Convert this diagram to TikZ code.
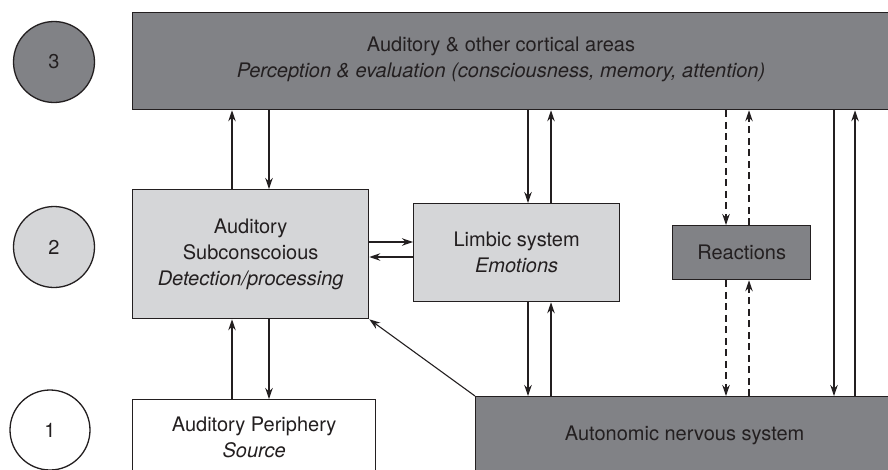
\documentclass[tikz,border=0pt]{standalone}
\usepackage{fontspec}
\setmainfont{TeX Gyre Heros}
\usetikzlibrary{arrows.meta}
\definecolor{inkc}{HTML}{231F20}
\definecolor{darkfill}{HTML}{818286}
\definecolor{lightfill}{HTML}{D5D6D8}
\begin{document}
\begin{tikzpicture}[x=1pt,y=-1pt,
  every node/.style={font=\fontsize{20}{26}\selectfont, text=inkc, inner sep=0pt},
  box/.style={draw=inkc, line width=1.3pt, rectangle},
  darkbox/.style={box, fill=darkfill},
  lightbox/.style={box, fill=lightfill},
  whitebox/.style={box, fill=white},
  level/.style={circle, draw=inkc, line width=1.3pt, minimum size=81pt},
  link/.style={draw=inkc, line width=1.1pt, -{Stealth[length=11pt,width=7.5pt]}},
  dlink/.style={link, dash pattern=on 7pt off 4.5pt},
  plain/.style={draw=inkc, line width=1.1pt}]
\useasboundingbox (0,0) rectangle (888,469);
\clip (0,0) rectangle (888,469);

% level markers
\node[level, fill=darkfill] (l3) at (54,62) {3};
\node[level, fill=lightfill] (l2) at (54,247) {2};
\node[level, fill=white, minimum size=80pt] (l1) at (50,430) {1};

% boxes
\node[darkbox, anchor=north west, minimum width=770pt, minimum height=97pt] (top) at (132,12) {};
\node[align=center] (toptext) at (501,59) {Auditory \& other cortical areas\\\itshape Perception \& evaluation (consciousness, memory, attention)};

\node[lightbox, anchor=north west, minimum width=236pt, minimum height=129pt, align=center] (sub) at (132,189)
  {Auditory\\Subconscoious\\\itshape Detection/processing};
\node[lightbox, anchor=north west, minimum width=206pt, minimum height=98pt, align=center] (limb) at (413,203)
  {Limbic system\\\itshape Emotions};
\node[darkbox, anchor=north west, minimum width=138pt, minimum height=54pt] (react) at (672,225) {Reactions};
\node[whitebox, anchor=north west, minimum width=243pt, minimum height=76pt, align=center] (peri) at (132,399)
  {Auditory Periphery\\\itshape Source};
\node[darkbox, anchor=north west, minimum width=418pt, minimum height=78pt] (ans) at (475,396)
  {Autonomic nervous system};

% connector columns
\coordinate (ca) at (232,0);
\coordinate (cb) at (269,0);
\coordinate (cc) at (528,0);
\coordinate (cd) at (551,0);
\coordinate (ce) at (726,0);
\coordinate (cf) at (749,0);
\coordinate (cg) at (834,0);
\coordinate (ch) at (855,0);
\coordinate (ra) at (0,242);
\coordinate (rb) at (0,257);

% subconscious <-> cortex
\draw[link] (sub.north -| ca) -- (top.south -| ca);
\draw[link] (top.south -| cb) -- (sub.north -| cb);
% subconscious <-> limbic
\draw[link] (sub.east |- ra) -- (limb.west |- ra);
\draw[link] (limb.west |- rb) -- (sub.east |- rb);
% periphery <-> subconscious
\draw[link] (peri.north -| ca) -- (sub.south -| ca);
\draw[link] (sub.south -| cb) -- (peri.north -| cb);
% limbic <-> cortex
\draw[link] (top.south -| cc) -- (limb.north -| cc);
\draw[link] (limb.north -| cd) -- (top.south -| cd);
% limbic <-> autonomic
\draw[link] (limb.south -| cc) -- (ans.north -| cc);
\draw[link] (ans.north -| cd) -- (limb.south -| cd);
% reactions (dashed)
\draw[dlink] (top.south -| ce) -- (react.north -| ce);
\draw[dlink] (react.north -| cf) -- (top.south -| cf);
\draw[dlink] (react.south -| ce) -- (ans.north -| ce);
\draw[dlink] (ans.north -| cf) -- (react.south -| cf);
% cortex <-> autonomic
\draw[link] (top.south -| cg) -- (ans.north -| cg);
\draw[link] (ans.north -| ch) -- (top.south -| ch);
% autonomic -> subconscious
\draw[link] (ans.north west) -- (sub.south east);
\end{tikzpicture}
\end{document}
